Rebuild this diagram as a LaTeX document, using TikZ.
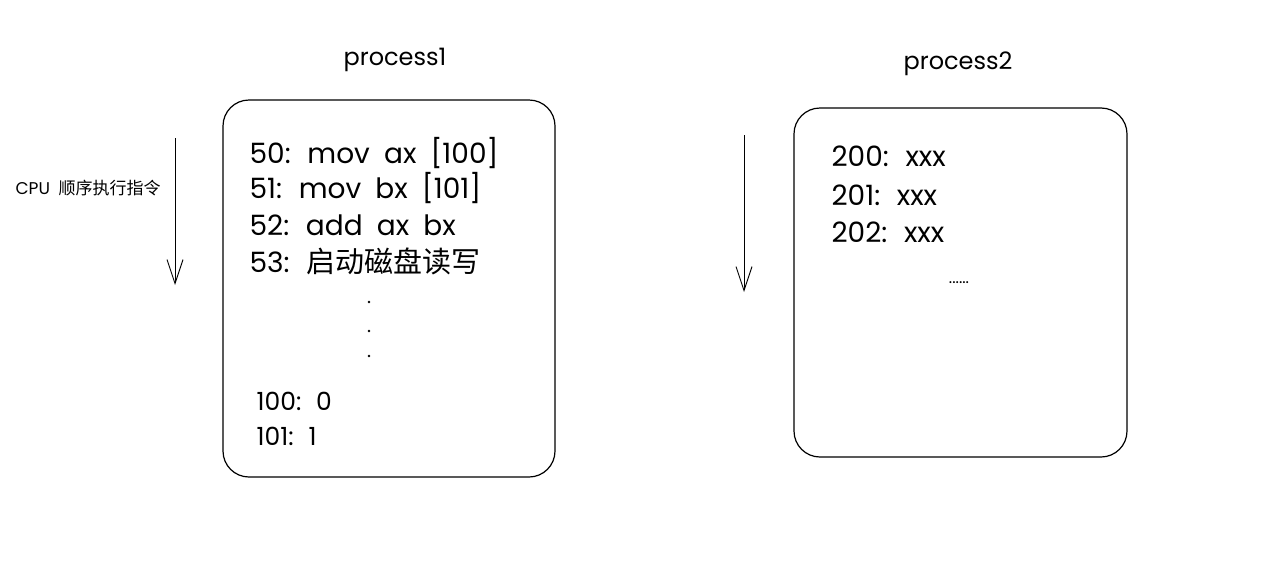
\documentclass[tikz,border=0pt]{standalone}
\usepackage{fontspec}
\setmainfont{Poppins}[WordSpace=1.9]
\newfontfamily\cjk{Noto Sans CJK SC}
\usetikzlibrary{positioning,arrows.meta}

\begin{document}
\begin{tikzpicture}[x=1pt,y=-1pt,line width=1.2pt]
    \tikzset{
        mem/.style = {draw, rounded corners=26pt},
        title/.style = {font=\fontsize{24}{28}\selectfont},
        code/.style = {anchor=west, inner sep=0pt, font=\fontsize{28}{32}\selectfont},
        data/.style = {anchor=west, inner sep=0pt, font=\fontsize{25}{28}\selectfont},
        flow/.style = {-{Straight Barb[length=24pt,width=16pt]}, line width=0.9pt},
    }
    \useasboundingbox (0,0) rectangle (1280,576);

    % process1
    \node [title] (t1) at (395,60) {process1};
    \draw [mem] (223,100) rectangle (555,477);
    \node [code] (l50) at (249,153) {50: mov ax [100]};
    \node [code] (l51) at (249,188) {51: mov bx [101]};
    \node [code] (l52) at (249,225) {52: add ax bx};
    \node [code] (l53) at (249,261) {53: {\cjk\fontsize{29}{32}\selectfont 启动磁盘读写}};
    \foreach \y in {302,331,356}
        \fill (369,\y) circle (1.3pt);
    \node [data] (m100) at (256,401) {100: 0};
    \node [data] (m101) at (256,436) {101: 1};

    \coordinate (a1s) at (175,138);
    \coordinate (a1e) at (175,285);
    \draw [flow] (a1s) -- (a1e);
    \node [anchor=west, inner sep=0pt, font=\fontsize{17}{20}\selectfont] (cpu) at (15,188) {CPU {\cjk 顺序执行指令}};

    % process2
    \node [title] (t2) at (958,64) {process2};
    \draw [mem] (794,108) rectangle (1127,457);
    \node [code] (l200) at (831,156) {200: xxx};
    \node [code] (l201) at (831,195) {201: xxx};
    \node [code] (l202) at (831,232) {202: xxx};
    \node [inner sep=0pt, font=\fontsize{16}{18}\selectfont] (more) at (959,283) {......};

    \coordinate (a2s) at (744,135);
    \coordinate (a2e) at (744,292);
    \draw [flow] (a2s) -- (a2e);
\end{tikzpicture}
\end{document}
